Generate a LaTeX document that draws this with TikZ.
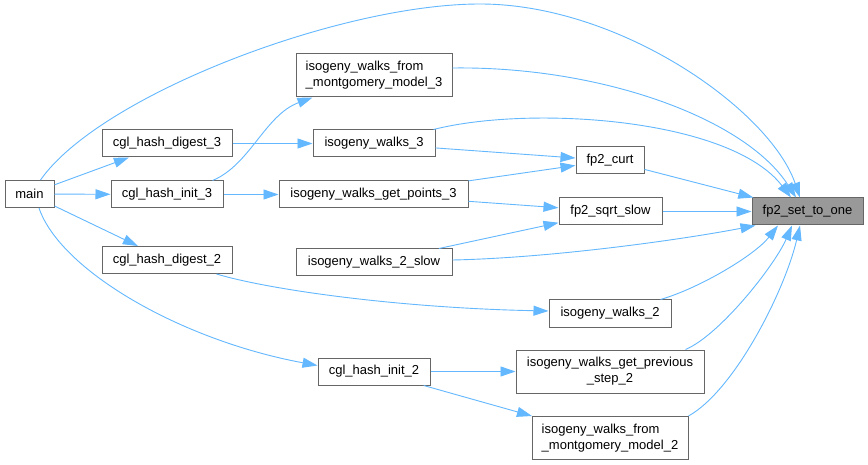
\documentclass[tikz,border=0pt]{standalone}
\usepackage{fontspec}
\setmainfont{Liberation Sans}
\usetikzlibrary{arrows.meta}
\definecolor{callblue}{RGB}{99,184,255}
\definecolor{boxgray}{RGB}{102,102,102}
\definecolor{focusgray}{RGB}{153,153,153}
\tikzset{
    fn/.style={draw=boxgray, line width=1pt, fill=white, inner sep=0pt, minimum height=27pt, font=\fontsize{13}{16}\selectfont},
    fntwo/.style={fn, minimum height=43pt},
    call/.style={draw=callblue, line width=0.9pt, -{Triangle[length=15pt, width=10pt]}}
}

\begin{document}
\begin{tikzpicture}[x=1pt, y=-1pt]
    \path[use as bounding box, fill=white] (0,0) rectangle (868,465);
    \node[fn, minimum width=49pt] (main) at (29.5,194) {main};
    \node[fn, minimum width=130pt] (digest3) at (167,143.5) {cgl\_hash\_digest\_3};
    \node[fn, minimum width=112pt] (init3) at (167,194.5) {cgl\_hash\_init\_3};
    \node[fn, minimum width=130pt] (digest2) at (167,260) {cgl\_hash\_digest\_2};
    \node[fn, minimum width=112pt] (init2) at (374,371.5) {cgl\_hash\_init\_2};
    \node[fntwo, minimum width=156pt, align=left] (model3) at (374,75.5) {isogeny\_walks\_from\\\_montgomery\_model\_3};
    \node[fn, minimum width=122pt] (walks3) at (374,143.5) {isogeny\_walks\_3};
    \node[fn, minimum width=189pt] (points3) at (373.5,194.5) {isogeny\_walks\_get\_points\_3};
    \node[fn, minimum width=156pt] (slow2) at (374,262.5) {isogeny\_walks\_2\_slow};
    \node[fn, minimum width=68pt] (curt) at (610,160.5) {fp2\_curt};
    \node[fn, minimum width=103pt] (sqrt) at (610.5,211.5) {fp2\_sqrt\_slow};
    \node[fn, minimum width=122pt] (walks2) at (610,313.5) {isogeny\_walks\_2};
    \node[fntwo, minimum width=188pt, align=center] (prev2) at (610,371.5) {isogeny\_walks\_get\_previous\\\_step\_2};
    \node[fntwo, minimum width=156pt, align=left] (model2) at (610,438) {isogeny\_walks\_from\\\_montgomery\_model\_2};
    \node[fn, fill=focusgray, minimum width=111pt] (one) at (807.5,211.5) {fp2\_set\_to\_one};
    \draw[call] ([xshift=11pt]main.north) .. controls (100,95) and (340,4) .. (480,4) .. controls (620,4) and (770,110) .. ([xshift=-7.5pt]one.north);
    \draw[call] (main) -- (digest3);
    \draw[call] (main) -- (init3);
    \draw[call] (main) -- (digest2);
    \draw[call] ([xshift=9.5pt]main.south) .. controls (60,270) and (180,340) .. ([yshift=6pt]init2.west);
    \draw[call] (digest3) -- (walks3);
    \draw[call] ([xshift=-11pt]init3.north east) .. controls (250,165) and (265,115) .. ([xshift=17pt]model3.south west);
    \draw[call] (init3) -- (points3);
    \draw[call] ([xshift=-16pt]digest2.south east) .. controls (270,290) and (400,308) .. ([yshift=2.5pt]walks2.west);
    \draw[call] (init2) -- (prev2);
    \draw[call] (init2) -- (model2);
    \draw[call] ([yshift=7.5pt]model3.east) .. controls (600,66) and (745,118) .. ([xshift=-11.5pt]one.north);
    \draw[call] ([xshift=-2pt]walks3.north east) .. controls (530,105) and (730,118) .. ([xshift=-16.5pt]one.north);
    \draw[call] (walks3) -- (curt);
    \draw[call] (points3) -- (curt);
    \draw[call] (points3) -- (sqrt);
    \draw[call] (slow2) -- (sqrt);
    \draw[call] ([yshift=2.5pt]slow2.east) .. controls (550,258) and (680,240) .. ([xshift=4pt]one.south west);
    \draw[call] (curt) -- (one);
    \draw[call] (sqrt) -- (one);
    \draw[call] ([xshift=-11pt]walks2.north east) .. controls (700,288) and (755,255) .. ([xshift=-29.5pt]one.south);
    \draw[call] ([xshift=-19pt]prev2.north east) .. controls (720,335) and (775,265) .. ([xshift=-15.5pt]one.south);
    \draw[call] (model2.north east) .. controls (735,390) and (785,290) .. ([xshift=-7.5pt]one.south);
\end{tikzpicture}
\end{document}
